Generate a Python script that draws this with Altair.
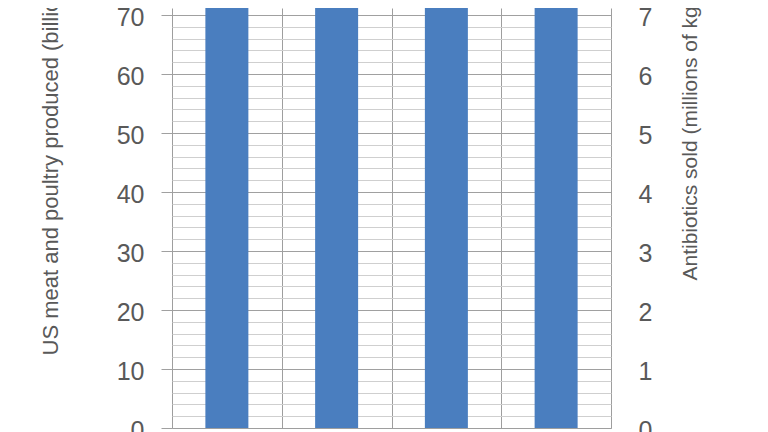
import altair as alt
import pandas as pd

years = ["2009", "2010", "2011", "2012"]
meat_poultry = [91.6, 92.1, 92.5, 93.2]      # billions of lbs (bars, extend above the visible crop)
antibiotics = [12.8, 13.2, 13.6, 14.7]       # millions of kg (line, above the visible crop)
left_ticks = list(range(0, 72, 2))
right_ticks = list(range(0, 8))

df = pd.DataFrame({"year": years, "meat": meat_poultry, "abx": antibiotics})

FONT = "Liberation Sans"
GRAY_TXT = "#595959"

x_enc = alt.X(
    "year:N",
    scale=alt.Scale(paddingInner=0, paddingOuter=0),
    axis=alt.Axis(
        title=None, grid=True, tickBand="extent", gridColor="#9e9e9e",
        domainColor="#9e9e9e", ticks=False, labels=False,
    ),
)

bars = alt.Chart(df).mark_bar(color="#4a7ebf", size=43, clip=True).encode(
    x=x_enc,
    y=alt.Y(
        "meat:Q",
        scale=alt.Scale(domain=[0, 71.19], nice=False, zero=True),
        axis=alt.Axis(
            title="US meat  and poultry produced (billions of lbs)",
            values=left_ticks,
            labelExpr="datum.value % 10 === 0 ? datum.label : ''",
            grid=True,
            gridColor={"condition": {"test": "datum.value % 10 === 0", "value": "#a0a0a0"}, "value": "#cfcfcf"},
            tickColor={"condition": {"test": "datum.value % 10 === 0", "value": "#a0a0a0"}, "value": "transparent"},
            tickSize=11,
            labelPadding=17,
            labelOffset=2,
            domain=False,
            labelFontSize=25, labelFont=FONT, labelColor=GRAY_TXT,
            titleFontSize=22, titleFont=FONT, titleColor=GRAY_TXT, titleFontWeight="normal",
            titleAngle=270, titleAlign="left", titleBaseline="middle",
            titleX=-122, titleY=347,
        ),
    ),
)

line = alt.Chart(df).mark_line(color="#c0504d", strokeWidth=3, clip=True).encode(
    x=alt.X("year:N"),
    y=alt.Y(
        "abx:Q",
        scale=alt.Scale(domain=[0, 7.119], nice=False, zero=True),
        axis=alt.Axis(
            title="Antibiotics sold (millions of kg)",
            orient="right",
            values=right_ticks,
            grid=False, ticks=False, domain=False,
            labelPadding=27,
            labelOffset=2,
            labelFontSize=25, labelFont=FONT, labelColor=GRAY_TXT,
            titleFontSize=21, titleFont=FONT, titleColor=GRAY_TXT, titleFontWeight="normal",
            titleAngle=270, titleAlign="left", titleBaseline="middle",
            titleX=79, titleY=272,
        ),
    ),
)

chart = alt.layer(bars, line).resolve_scale(y="independent").properties(
    width=439, height=420,
    autosize=alt.AutoSizeParams(type="none"),
    padding={"left": 164, "top": 0, "right": 149, "bottom": 4},
).configure_view(stroke=None)

chart.save("out.html", embed_options={"renderer": "svg", "actions": False})
